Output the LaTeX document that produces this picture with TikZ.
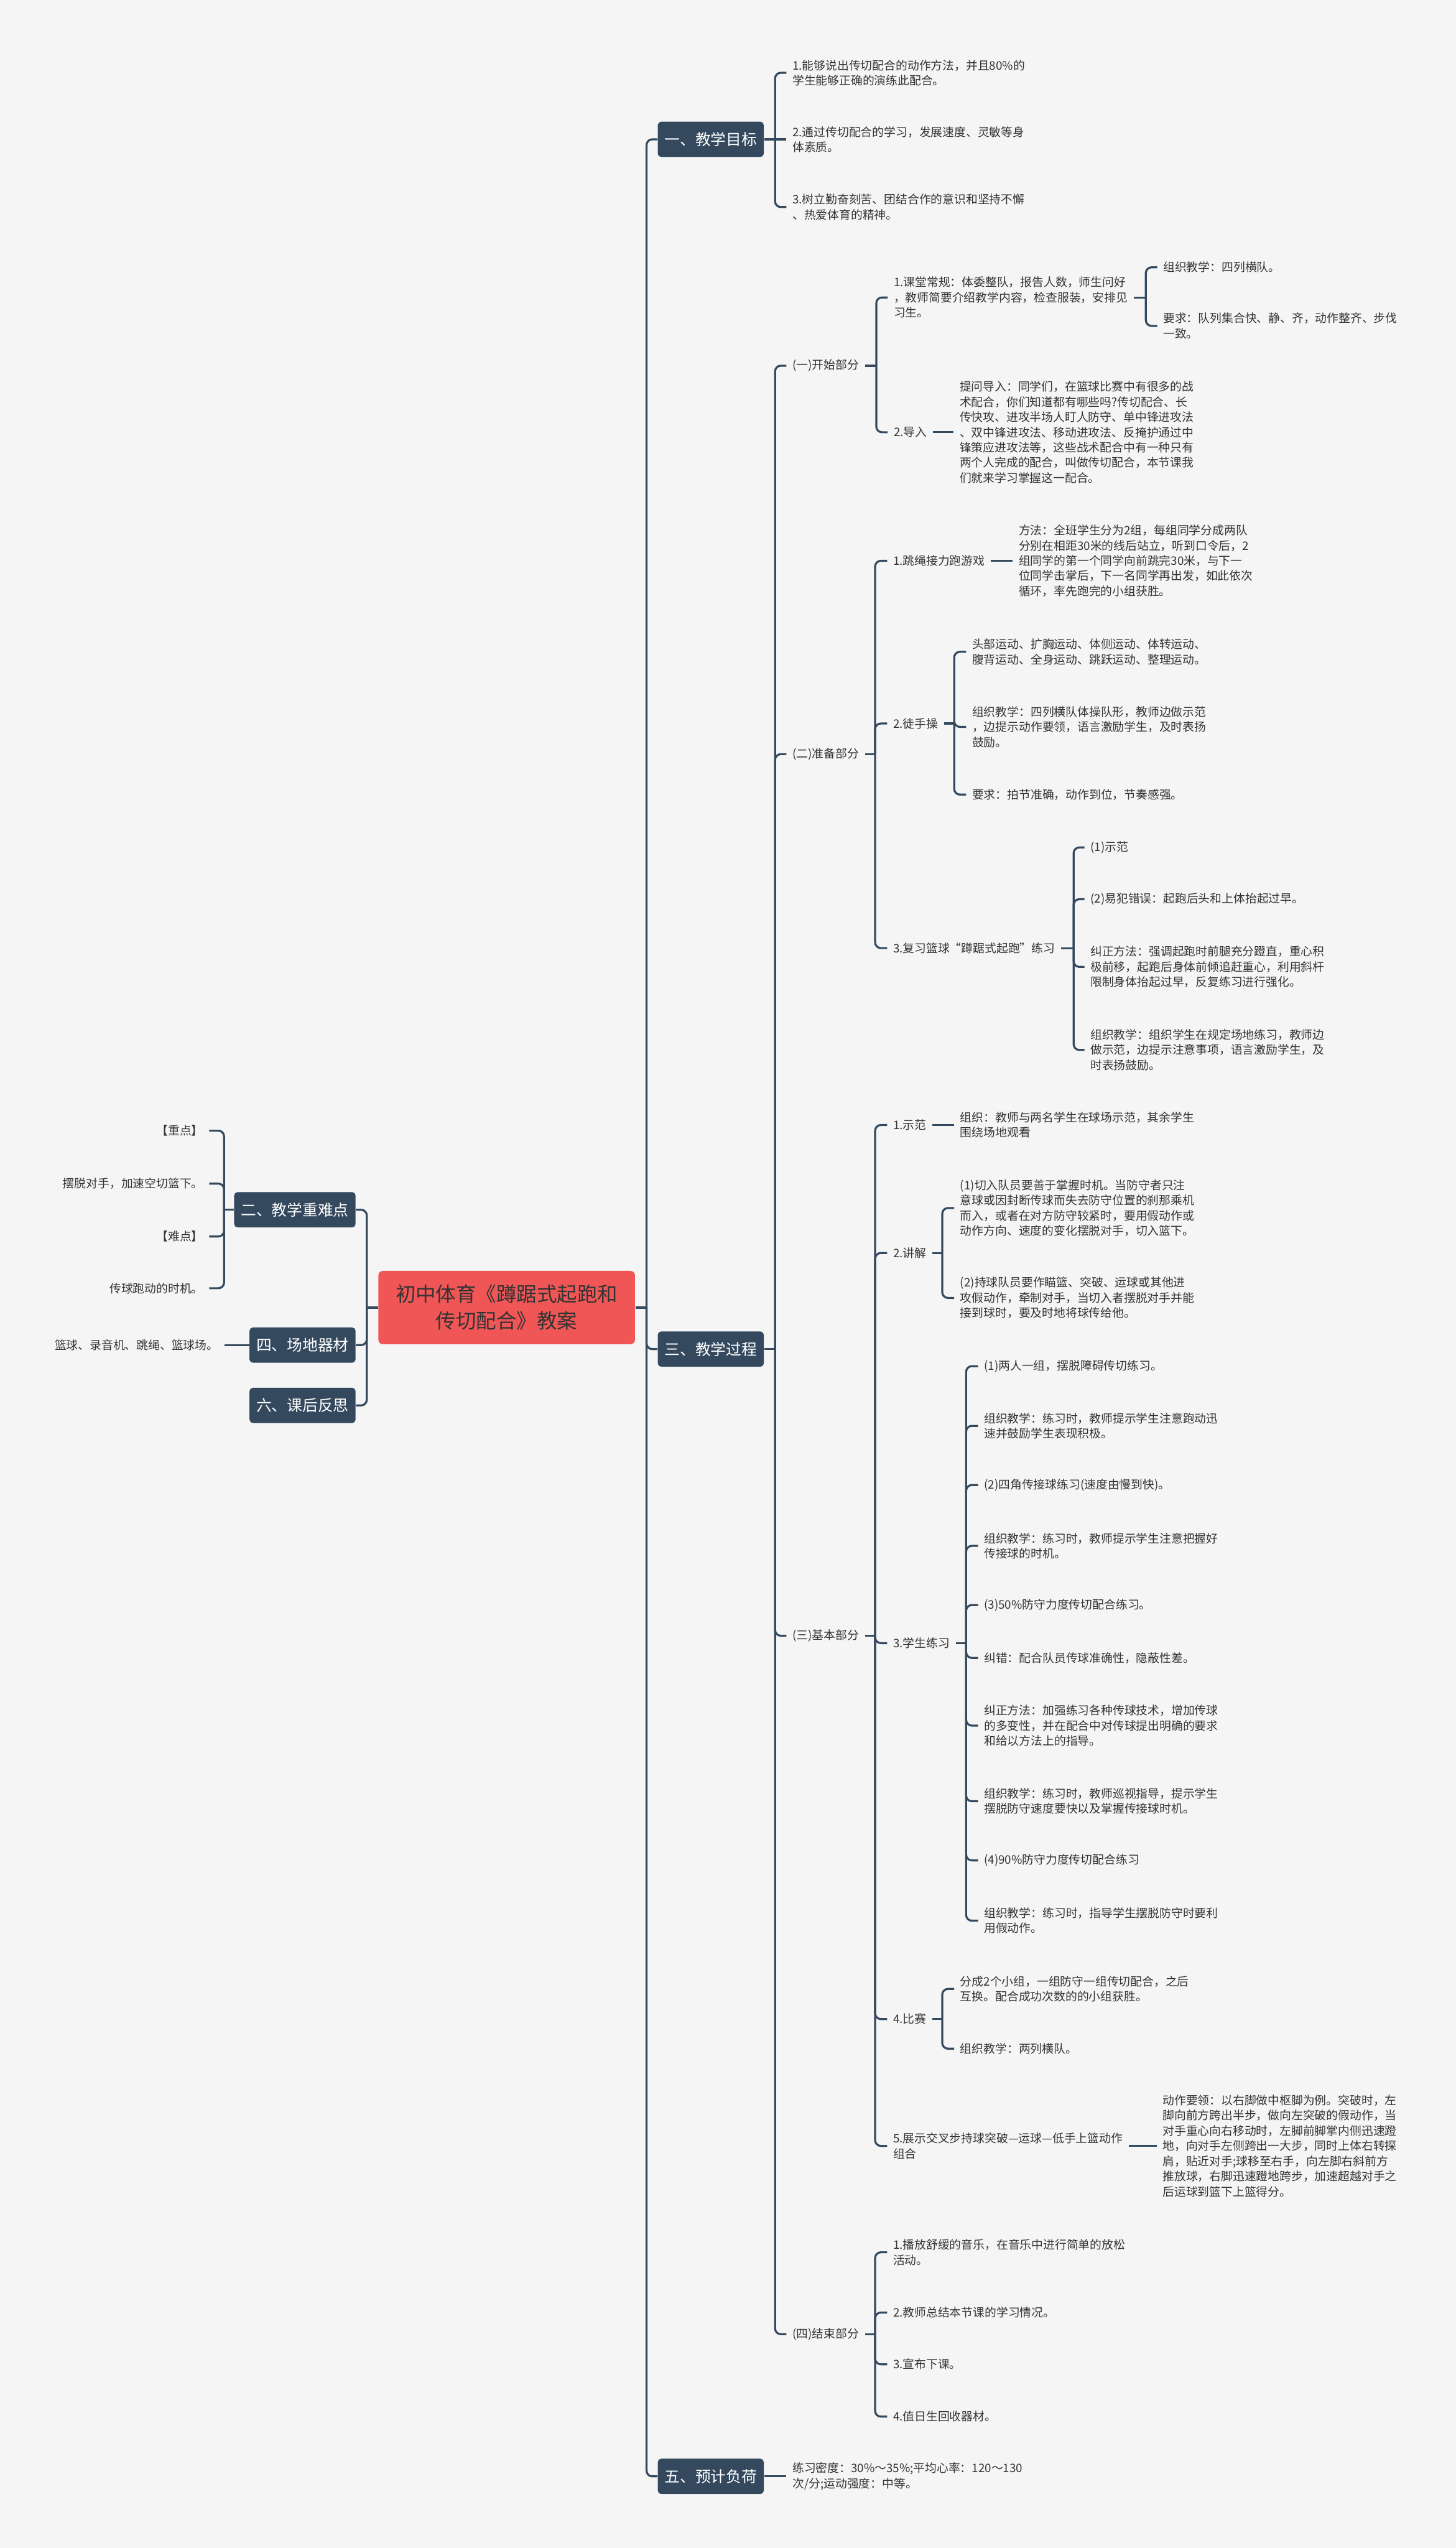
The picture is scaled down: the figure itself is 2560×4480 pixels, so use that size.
\documentclass[tikz,border=0pt]{standalone}
\usepackage{fontspec}
\setmainfont{Noto Sans CJK SC}
\definecolor{bgc}{HTML}{F5F5F5}
\definecolor{linec}{HTML}{34495E}
\definecolor{rootred}{HTML}{F05656}
\definecolor{textc}{HTML}{333333}
\begin{document}
\begin{tikzpicture}[
    x=0.01cm, y=-0.01cm,
    conn/.style={draw=linec, line width=1pt, rounded corners=0.1cm},
    root/.style={fill=rootred, rounded corners=0.08cm, text=textc, align=center,
        font=\fontsize{10.1pt}{13.3pt}\selectfont, minimum width=4.51cm, minimum height=1.29cm},
    topic/.style={fill=linec, text=white, rounded corners=0.06cm, inner xsep=0.12cm,
        font=\fontsize{7.7pt}{9pt}\selectfont, minimum height=0.62cm},
    leaf/.style={text=textc, align=left, inner xsep=0.1cm, inner ysep=0.05cm,
        font=\fontsize{5.85pt}{7.6pt}\selectfont}
]
    \fill[bgc] (0,0) rectangle (2560,4480);
    \useasboundingbox (0,0) rectangle (2560,4480);

    % centre and main topics
    \node[root] (R) at (891,2299) {初中体育《蹲踞式起跑和\\传切配合》教案};
    \node[topic, anchor=west] (m1) at (1156,245) {一、教学目标};
    \node[topic, anchor=west] (m3) at (1156,2372) {三、教学过程};
    \node[topic, anchor=west] (m5) at (1156,4354) {五、预计负荷};
    \node[topic, anchor=east] (m2) at (626,2127) {二、教学重难点};
    \node[topic, anchor=east] (m4) at (626,2365) {四、场地器材};
    \node[topic, anchor=east] (m6) at (626,2471) {六、课后反思};

    % left side
    \node[leaf, align=right, anchor=east] (k1) at (368,1988) {【重点】};
    \node[leaf, align=right, anchor=east] (k2) at (368,2081) {摆脱对手，加速空切篮下。};
    \node[leaf, align=right, anchor=east] (k3) at (368,2174) {【难点】};
    \node[leaf, align=right, anchor=east] (k4) at (368,2265) {传球跑动的时机。};
    \node[leaf, align=right, anchor=east] (f1) at (395,2365) {篮球、录音机、跳绳、篮球场。};

    % 一、教学目标
    \node[leaf, anchor=west] (g1) at (1383,128) {1.能够说出传切配合的动作方法，并且80\%的\\学生能够正确的演练此配合。};
    \node[leaf, anchor=west] (g2) at (1383,245) {2.通过传切配合的学习，发展速度、灵敏等身\\体素质。};
    \node[leaf, anchor=west] (g3) at (1383,364) {3.树立勤奋刻苦、团结合作的意识和坚持不懈\\、热爱体育的精神。};

    % 三、教学过程
    \node[leaf, anchor=west] (p1) at (1383,643) {(一)开始部分};
    \node[leaf, anchor=west] (p2) at (1383,1326) {(二)准备部分};
    \node[leaf, anchor=west] (p3) at (1383,2876) {(三)基本部分};
    \node[leaf, anchor=west] (p4) at (1383,4104) {(四)结束部分};

    \node[leaf, anchor=west] (a1) at (1561,523) {1.课堂常规：体委整队，报告人数，师生问好\\，教师简要介绍教学内容，检查服装，安排见\\习生。};
    \node[leaf, anchor=west] (a2) at (1561,760) {2.导入};
    \node[leaf, anchor=west] (a11) at (2035,470) {组织教学：四列横队。};
    \node[leaf, anchor=west] (a12) at (2035,573) {要求：队列集合快、静、齐，动作整齐、步伐\\一致。};
    \node[leaf, anchor=west] (a21) at (1677,760) {提问导入：同学们，在篮球比赛中有很多的战\\术配合，你们知道都有哪些吗?传切配合、长\\传快攻、进攻半场人盯人防守、单中锋进攻法\\、双中锋进攻法、移动进攻法、反掩护通过中\\锋策应进攻法等，这些战术配合中有一种只有\\两个人完成的配合，叫做传切配合，本节课我\\们就来学习掌握这一配合。};

    \node[leaf, anchor=west] (b1) at (1560,986) {1.跳绳接力跑游戏};
    \node[leaf, anchor=west] (b2) at (1560,1272) {2.徒手操};
    \node[leaf, anchor=west] (b3) at (1560,1667) {3.复习篮球“蹲踞式起跑”练习};
    \node[leaf, anchor=west] (b11) at (1781,986) {方法：全班学生分为2组，每组同学分成两队\\分别在相距30米的线后站立，听到口令后，2\\组同学的第一个同学向前跳完30米，与下一\\位同学击掌后，下一名同学再出发，如此依次\\循环，率先跑完的小组获胜。};
    \node[leaf, anchor=west] (b21) at (1699,1146) {头部运动、扩胸运动、体侧运动、体转运动、\\腹背运动、全身运动、跳跃运动、整理运动。};
    \node[leaf, anchor=west] (b22) at (1699,1278) {组织教学：四列横队体操队形，教师边做示范\\，边提示动作要领，语言激励学生，及时表扬\\鼓励。};
    \node[leaf, anchor=west] (b23) at (1699,1397) {要求：拍节准确，动作到位，节奏感强。};
    \node[leaf, anchor=west] (b31) at (1907,1490) {(1)示范};
    \node[leaf, anchor=west] (b32) at (1907,1581) {(2)易犯错误：起跑后头和上体抬起过早。};
    \node[leaf, anchor=west] (b33) at (1907,1700) {纠正方法：强调起跑时前腿充分蹬直，重心积\\极前移，起跑后身体前倾追赶重心，利用斜杆\\限制身体抬起过早，反复练习进行强化。};
    \node[leaf, anchor=west] (b34) at (1907,1846) {组织教学：组织学生在规定场地练习，教师边\\做示范，边提示注意事项，语言激励学生，及\\时表扬鼓励。};

    \node[leaf, anchor=west] (c1) at (1560,1978) {1.示范};
    \node[leaf, anchor=west] (c2) at (1560,2203) {2.讲解};
    \node[leaf, anchor=west] (c3) at (1560,2889) {3.学生练习};
    \node[leaf, anchor=west] (c4) at (1560,3550) {4.比赛};
    \node[leaf, anchor=west] (c5) at (1560,3773) {5.展示交叉步持球突破—运球—低手上篮动作\\组合};
    \node[leaf, anchor=west] (c11) at (1678,1978) {组织：教师与两名学生在球场示范，其余学生\\围绕场地观看};
    \node[leaf, anchor=west] (c21) at (1678,2124) {(1)切入队员要善于掌握时机。当防守者只注\\意球或因封断传球而失去防守位置的刹那乘机\\而入，或者在对方防守较紧时，要用假动作或\\动作方向、速度的变化摆脱对手，切入篮下。};
    \node[leaf, anchor=west] (c22) at (1678,2282) {(2)持球队员要作瞄篮、突破、运球或其他进\\攻假动作，牵制对手，当切入者摆脱对手并能\\接到球时，要及时地将球传给他。};
    \node[leaf, anchor=west] (c31) at (1720,2402) {(1)两人一组，摆脱障碍传切练习。};
    \node[leaf, anchor=west] (c32) at (1720,2507) {组织教学：练习时，教师提示学生注意跑动迅\\速并鼓励学生表现积极。};
    \node[leaf, anchor=west] (c33) at (1720,2611) {(2)四角传接球练习(速度由慢到快)。};
    \node[leaf, anchor=west] (c34) at (1720,2718) {组织教学：练习时，教师提示学生注意把握好\\传接球的时机。};
    \node[leaf, anchor=west] (c35) at (1720,2822) {(3)50\%防守力度传切配合练习。};
    \node[leaf, anchor=west] (c36) at (1720,2915) {纠错：配合队员传球准确性，隐蔽性差。};
    \node[leaf, anchor=west] (c37) at (1720,3034) {纠正方法：加强练习各种传球技术，增加传球\\的多变性，并在配合中对传球提出明确的要求\\和给以方法上的指导。};
    \node[leaf, anchor=west] (c38) at (1720,3167) {组织教学：练习时，教师巡视指导，提示学生\\摆脱防守速度要快以及掌握传接球时机。};
    \node[leaf, anchor=west] (c39) at (1720,3271) {(4)90\%防守力度传切配合练习};
    \node[leaf, anchor=west] (c3a) at (1720,3377) {组织教学：练习时，指导学生摆脱防守时要利\\用假动作。};
    \node[leaf, anchor=west] (c41) at (1678,3497) {分成2个小组，一组防守一组传切配合，之后\\互换。配合成功次数的的小组获胜。};
    \node[leaf, anchor=west] (c42) at (1678,3602) {组织教学：两列横队。};
    \node[leaf, anchor=west] (c51) at (2034,3773) {动作要领：以右脚做中枢脚为例。突破时，左\\脚向前方跨出半步，做向左突破的假动作，当\\对手重心向右移动时，左脚前脚掌内侧迅速蹬\\地，向对手左侧跨出一大步，同时上体右转探\\肩，贴近对手;球移至右手，向左脚右斜前方\\推放球，右脚迅速蹬地跨步，加速超越对手之\\后运球到篮下上篮得分。};

    \node[leaf, anchor=west] (d1) at (1560,3960) {1.播放舒缓的音乐，在音乐中进行简单的放松\\活动。};
    \node[leaf, anchor=west] (d2) at (1560,4066) {2.教师总结本节课的学习情况。};
    \node[leaf, anchor=west] (d3) at (1560,4157) {3.宣布下课。};
    \node[leaf, anchor=west] (d4) at (1560,4249) {4.值日生回收器材。};

    % 五、预计负荷
    \node[leaf, anchor=west] (e1) at (1383,4354) {练习密度：30\%～35\%;平均心率：120～130\\次/分;运动强度：中等。};

    % junctions
    \coordinate (jR) at (1137,2299);
    \coordinate (jL) at (645,2299);
    \coordinate (jm1) at (1363,245);
    \coordinate (jm3) at (1363,2372);
    \coordinate (jm2) at (394,2127);
    \coordinate (jp1) at (1541,643);
    \coordinate (ja1) at (2015,523);
    \coordinate (jp2) at (1539,1326);
    \coordinate (jb2) at (1678,1272);
    \coordinate (jb3) at (1888,1667);
    \coordinate (jp3) at (1539,2876);
    \coordinate (jc2) at (1657,2203);
    \coordinate (jc3) at (1699,2889);
    \coordinate (jc4) at (1657,3550);
    \coordinate (jp4) at (1539,4104);

    \draw[conn] (R.east) -- (jR);
    \draw[conn] (jR) |- (m1.west);
    \draw[conn] (jR) |- (m3.west);
    \draw[conn] (jR) |- (m5.west);
    \draw[conn] (R.west) -- (jL);
    \draw[conn] (jL) |- (m2.east);
    \draw[conn] (jL) |- (m4.east);
    \draw[conn] (jL) |- (m6.east);

    \draw[conn] (m2.west) -- (jm2);
    \draw[conn] (jm2) |- (k1.east);
    \draw[conn] (jm2) |- (k2.east);
    \draw[conn] (jm2) |- (k3.east);
    \draw[conn] (jm2) |- (k4.east);
    \draw[conn] (m4.west) -- (f1.east);

    \draw[conn] (m1.east) -- (jm1);
    \draw[conn] (jm1) |- (g1.west);
    \draw[conn] (jm1) -- (g2.west);
    \draw[conn] (jm1) |- (g3.west);

    \draw[conn] (m3.east) -- (jm3);
    \draw[conn] (jm3) |- (p1.west);
    \draw[conn] (jm3) |- (p2.west);
    \draw[conn] (jm3) |- (p3.west);
    \draw[conn] (jm3) |- (p4.west);

    \draw[conn] (p1.east) -- (jp1);
    \draw[conn] (jp1) |- (a1.west);
    \draw[conn] (jp1) |- (a2.west);
    \draw[conn] (a1.east) -- (ja1);
    \draw[conn] (ja1) |- (a11.west);
    \draw[conn] (ja1) |- (a12.west);
    \draw[conn] (a2.east) -- (a21.west);

    \draw[conn] (p2.east) -- (jp2);
    \draw[conn] (jp2) |- (b1.west);
    \draw[conn] (jp2) |- (b2.west);
    \draw[conn] (jp2) |- (b3.west);
    \draw[conn] (b1.east) -- (b11.west);
    \draw[conn] (b2.east) -- (jb2);
    \draw[conn] (jb2) |- (b21.west);
    \draw[conn] (jb2) |- (b22.west);
    \draw[conn] (jb2) |- (b23.west);
    \draw[conn] (b3.east) -- (jb3);
    \draw[conn] (jb3) |- (b31.west);
    \draw[conn] (jb3) |- (b32.west);
    \draw[conn] (jb3) |- (b33.west);
    \draw[conn] (jb3) |- (b34.west);

    \draw[conn] (p3.east) -- (jp3);
    \draw[conn] (jp3) |- (c1.west);
    \draw[conn] (jp3) |- (c2.west);
    \draw[conn] (jp3) |- (c3.west);
    \draw[conn] (jp3) |- (c4.west);
    \draw[conn] (jp3) |- (c5.west);
    \draw[conn] (c1.east) -- (c11.west);
    \draw[conn] (c2.east) -- (jc2);
    \draw[conn] (jc2) |- (c21.west);
    \draw[conn] (jc2) |- (c22.west);
    \draw[conn] (c3.east) -- (jc3);
    \draw[conn] (jc3) |- (c31.west);
    \draw[conn] (jc3) |- (c32.west);
    \draw[conn] (jc3) |- (c33.west);
    \draw[conn] (jc3) |- (c34.west);
    \draw[conn] (jc3) |- (c35.west);
    \draw[conn] (jc3) |- (c36.west);
    \draw[conn] (jc3) |- (c37.west);
    \draw[conn] (jc3) |- (c38.west);
    \draw[conn] (jc3) |- (c39.west);
    \draw[conn] (jc3) |- (c3a.west);
    \draw[conn] (c4.east) -- (jc4);
    \draw[conn] (jc4) |- (c41.west);
    \draw[conn] (jc4) |- (c42.west);
    \draw[conn] (c5.east) -- (c51.west);

    \draw[conn] (p4.east) -- (jp4);
    \draw[conn] (jp4) |- (d1.west);
    \draw[conn] (jp4) |- (d2.west);
    \draw[conn] (jp4) |- (d3.west);
    \draw[conn] (jp4) |- (d4.west);

    \draw[conn] (m5.east) -- (e1.west);
\end{tikzpicture}
\end{document}
